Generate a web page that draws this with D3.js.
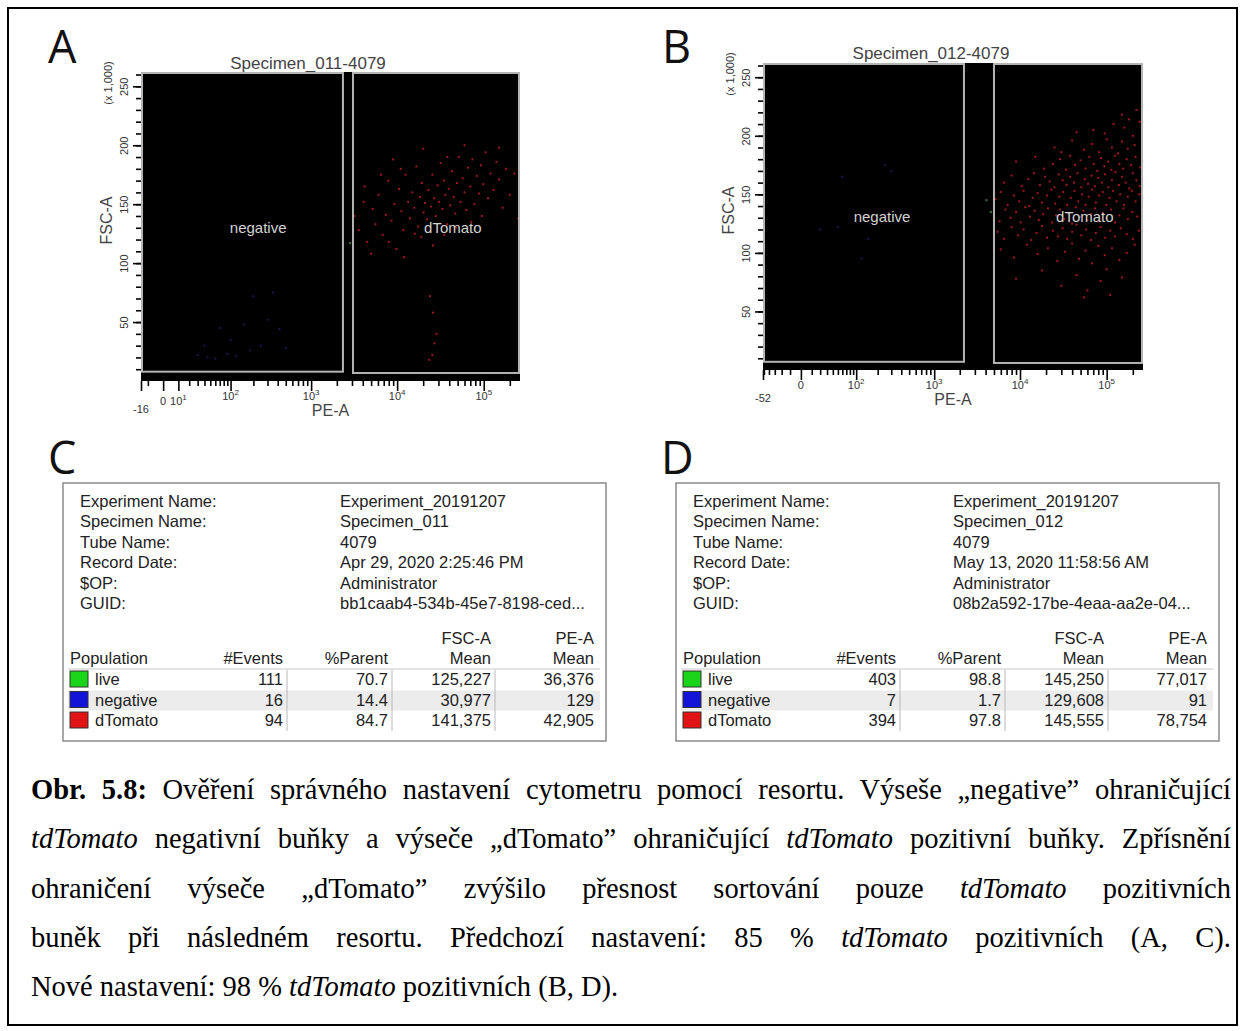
<!DOCTYPE html>
<html>
<head>
<meta charset="utf-8">
<script src="https://cdn.jsdelivr.net/npm/d3@7"></script>
<style>
  body { margin: 0; background: #fff; }
  #fig { position: relative; width: 1243px; height: 1031px; }
  #chart { position: absolute; left: 0; top: 0; }
  #caption { position: absolute; left: 31px; top: 765px; width: 1200px;
             font-family: "Liberation Serif", "Times New Roman", serif; font-size: 28.5px;
             line-height: 49.3px; color: #000; }
  #caption div { text-align: justify; white-space: nowrap; }
  .letter { font-family: "Open Sans", "Liberation Sans", sans-serif; font-size: 45px; fill: #111; }
  .ptitle { font-family: "Liberation Sans", Arial, sans-serif; font-size: 17px; fill: #444; }
  .tick line { stroke: #000; stroke-width: 1.6px; }
  .ticklabel, .tick text { font-family: "Liberation Sans", Arial, sans-serif; font-size: 11px; fill: #333; }
  .axtitle { font-family: "Liberation Sans", Arial, sans-serif; font-size: 16px; fill: #444; }
  .gatelabel { font-family: "Liberation Sans", Arial, sans-serif; font-size: 15px; fill: #d2d2d2; }
  .tbl { font-family: "Liberation Sans", Arial, sans-serif; font-size: 16.5px; fill: #222; }
</style>
</head>
<body>
<div id="fig">
  <svg id="chart" width="1243" height="1031"></svg>
  <div id="caption"></div>
</div>
<script>
// ---------------- data ----------------
var plotLetters = ["A", "B"];
var plotTitles = ["Specimen_011-4079", "Specimen_012-4079"];
var peMinA = -16, peMinB = -52, peMax = 262144;   // PE-A axis ends
var fscMax = 262.144;                              // FSC-A, x 1,000
var fscMajor = [50, 100, 150, 200, 250];
var peDecades = [10, 100, 1000, 10000, 100000];
var gateNames = ["negative", "dTomato"];

// gates: [PE from, PE to, FSC from, FSC to]
var gatesA = [[-16, 2420, 7.9, 262.144], [3000, 262144, 6.8, 262.144]];
var gatesB = [[-52, 2300, 7, 262.144], [4870, 262144, 6, 262.144]];
// where the gate names sit: [PE, FSC]
var gateLabelsA = [[230, 130], [44000, 130]];
var gateLabelsB = [[228, 131], [56000, 131]];

// events: [PE-A, FSC-A (x 1,000)]
var redA = [[3200,140],[3600,128],[4100,152],[4500,118],[5200,146],[5600,133],[6100,158],[6800,124],
  [7400,141],[7900,170],[8600,136],[9300,150],[9800,112],[10500,163],[11200,144],[11800,128],
  [12500,175],[13400,152],[14100,138],[15000,160],[15800,147],[16700,182],[17500,131],[18400,156],
  [19300,168],[20200,143],[21000,151],[22100,137],[23000,162],[24500,148],[25600,175],[26800,155],
  [27900,140],[29300,166],[30500,152],[31800,185],[33400,146],[34700,170],[36000,158],[37800,133],
  [39500,163],[41000,149],[43000,178],[45000,156],[47000,142],[49000,168],[51500,190],[54000,152],
  [57000,172],[60000,160],[63000,145],[66000,181],[70000,165],[74000,188],[78000,150],[83000,174],
  [88000,159],[93000,183],[99000,167],[105000,194],[112000,155],[120000,176],[130000,162],[140000,186],
  [150000,171],[165000,147],[180000,180],[200000,158],[225000,176],[250000,138],
  [5000,108],[8000,118],[12000,105],[19000,122],[26000,115],[35000,124],[48000,130],
  [24000,72],[26000,58],[28500,40],[27000,32],[25500,22],[23500,18],
  [20000,197],[60000,200],[150000,198],[9000,188],
  [4200,165],[6500,175],[11000,180],[16000,125],[38000,190],[72000,135],[95000,140]];
var blueA = [[30,22],[45,20],[60,19],[90,23],[120,21],[180,26],[250,30],[70,45],
  [150,48],[300,52],[420,44],[200,72],[350,75],[100,35],[500,28],[40,30]];
var liveA = [[2850,117]];

var redB = [[150000,218],[220000,222],[180000,214],
  [70000,205],[120000,210],[95000,202],[160000,207],[240000,212],[200000,200],[45000,203],
  [25000,190],[40000,196],[55000,188],[68000,193],[82000,186],[100000,197],[115000,190],[135000,185],
  [150000,195],[175000,189],[210000,192],[255000,198],[30000,186],
  [9000,178],[15000,182],[19000,172],[24000,176],[29000,180],[34000,171],[38000,183],[43000,175],
  [50000,179],[57000,172],[63000,182],[71000,176],[78000,170],[86000,181],[94000,174],[104000,178],
  [113000,171],[125000,183],[140000,176],[155000,172],[170000,180],[190000,175],[215000,182],[245000,173],
  [260000,178],
  [6500,160],[8000,166],[10500,157],[12500,163],[14500,168],[17000,158],[19500,165],[22000,161],
  [25000,156],[28000,167],[31000,162],[34500,158],[38000,165],[42000,160],[46000,168],[51000,156],
  [56000,163],[61000,159],[67000,166],[73000,157],[80000,164],[88000,160],[96000,167],[105000,156],
  [115000,162],[126000,169],[138000,158],[150000,165],[165000,160],[182000,155],[200000,168],[220000,162],
  [240000,157],[258000,166],
  [5200,146],[6000,152],[7200,141],[8500,149],[9800,144],[11000,153],[12800,140],[14000,147],
  [16000,151],[18000,143],[20500,149],[23000,154],[25500,142],[28500,148],[31500,152],[35000,141],
  [38500,147],[42500,153],[47000,144],[52000,150],[57000,141],[62000,148],[68000,154],[75000,143],
  [82000,149],[90000,152],[99000,141],[108000,147],[118000,153],[130000,144],[143000,150],[158000,141],
  [175000,148],[195000,153],[215000,144],[238000,150],[260000,146],
  [5000,133],[5800,127],[6800,137],[7800,130],[9000,135],[10200,126],[11500,139],[13000,131],
  [14800,136],[16500,128],[18500,133],[21000,138],[23500,126],[26000,132],[29000,137],[32500,129],
  [36000,134],[40000,125],[44000,139],[49000,131],[54000,136],[60000,128],[66000,133],[73000,138],
  [81000,127],[90000,134],[100000,130],[112000,137],[125000,126],[140000,132],[156000,138],[175000,129],
  [198000,135],[225000,131],[255000,127],
  [5500,118],[6500,112],[8000,122],[9500,115],[11000,120],[13500,111],[15500,117],[18000,123],
  [20500,113],[24000,119],[27500,114],[31000,121],[35000,112],[40000,118],[45000,124],[51000,115],
  [58000,120],[66000,111],[75000,117],[85000,122],[96000,113],[110000,119],[125000,114],[145000,121],
  [170000,116],[200000,112],[235000,119],
  [6000,103],[8500,96],[12000,107],[16000,99],[21000,104],[27000,93],[33000,101],[40000,108],
  [48000,95],[57000,102],[68000,91],[80000,106],[95000,98],[115000,104],[140000,94],[170000,100],
  [210000,107],
  [9000,78],[18000,85],[30000,72],[45000,81],[60000,68],[85000,76],[110000,64],[150000,79],
  [55000,62],[100000,86],
  [262144,150],[262144,160],[262144,170],[262144,180],[262144,190],[262144,200],[262144,145],
  [262144,175],[262144,165],[262144,185]];
var blueB = [[50,122],[20,120],[150,112],[300,170],[60,165],[120,95],[250,175]];
var liveB = [[4100,145],[4600,135]];

// statistics tables
var infoKeys = ["Experiment Name:", "Specimen Name:", "Tube Name:", "Record Date:", "$OP:", "GUID:"];
var infoC = ["Experiment_20191207", "Specimen_011", "4079", "Apr 29, 2020 2:25:46 PM",
             "Administrator", "bb1caab4-534b-45e7-8198-ced..."];
var infoD = ["Experiment_20191207", "Specimen_012", "4079", "May 13, 2020 11:58:56 AM",
             "Administrator", "08b2a592-17be-4eaa-aa2e-04..."];
var popNames = ["live", "negative", "dTomato"];
var eventsC = [111, 16, 94],  parentC = [70.7, 14.4, 84.7];
var fscMeanC = [125227, 30977, 141375], peMeanC = [36376, 129, 42905];
var eventsD = [403, 7, 394],  parentD = [98.8, 1.7, 97.8];
var fscMeanD = [145250, 129608, 145555], peMeanD = [77017, 91, 78754];

var captionLines = [
  "<b>Obr. 5.8:</b> Ověření správného nastavení cytometru pomocí resortu. Výseše „negative” ohraničující",
  "<i>tdTomato</i> negativní buňky a výseče „dTomato” ohraničující <i>tdTomato</i> pozitivní buňky. Zpřísnění",
  "ohraničení výseče „dTomato” zvýšilo přesnost sortování pouze <i>tdTomato</i> pozitivních",
  "buněk při následném resortu. Předchozí nastavení: 85 % <i>tdTomato</i> pozitivních (A, C).",
  "Nové nastavení: 98 % <i>tdTomato</i> pozitivních (B, D)."
];

// ---------------- drawing ----------------
var svg = d3.select("#chart");
var popColors = ["#19d419", "#1414d8", "#e01414"];

// outer frame of the figure
svg.append("rect")
    .attr("x", 8).attr("y", 8).attr("width", 1229).attr("height", 1017)
    .attr("fill", "none").attr("stroke", "#000").attr("stroke-width", 2);

var plots = [
  {letter: plotLetters[0], title: plotTitles[0], peMin: peMinA, constant: 20,
   left: 141, right: 520, top: 72, bottom: 381, titleX: 308, titleY: 69, letterX: 48,
   gates: gatesA, gateLabels: gateLabelsA, red: redA, blue: blueA, live: liveA},
  {letter: plotLetters[1], title: plotTitles[1], peMin: peMinB, constant: 30,
   left: 763, right: 1143, top: 63, bottom: 370, titleX: 931, titleY: 59, letterX: 662,
   gates: gatesB, gateLabels: gateLabelsB, red: redB, blue: blueB, live: liveB}
];

plots.forEach(drawPlot);

function drawPlot(p, pi) {
    // PE-A is shown on a logicle-like axis, symlog is the closest d3 scale
    var x = d3.scaleSymlog().constant(p.constant).domain([p.peMin, peMax]).range([p.left, p.right]),
        y = d3.scaleLinear().domain([0, fscMax]).range([p.bottom, p.top]);
    var g = svg.append("g");

    g.append("text").attr("class", "letter").attr("x", p.letterX).attr("y", 63).text(p.letter);
    g.append("text").attr("class", "ptitle").attr("text-anchor", "middle")
        .attr("x", p.titleX).attr("y", p.titleY).text(p.title);

    // black plot area
    g.append("rect")
        .attr("x", p.left).attr("y", p.top)
        .attr("width", p.right - p.left).attr("height", p.bottom - p.top)
        .attr("fill", "#000");

    var clipId = "clip" + pi;
    g.append("clipPath").attr("id", clipId).append("rect")
        .attr("x", p.left).attr("y", p.top)
        .attr("width", p.right - p.left).attr("height", p.bottom - p.top);
    var dots = g.append("g").attr("clip-path", "url(#" + clipId + ")");

    function addDots(data, color) {
        dots.append("g").selectAll("rect").data(data).enter().append("rect")
            .attr("x", function(d) { return x(d[0]) - 1; })
            .attr("y", function(d) { return y(d[1]) - 1; })
            .attr("width", 2).attr("height", 2)
            .attr("fill", color);
    }
    addDots(p.blue, "#181852");
    addDots(p.live, "#3a7a3a");
    addDots(p.red, "#a01818");

    // gates
    g.selectAll(".gate").data(p.gates).enter().append("rect")
        .attr("class", "gate")
        .attr("x", function(d) { return x(d[0]) + 1; })
        .attr("y", function(d) { return y(d[3]) + 1; })
        .attr("width", function(d) { return x(d[1]) - x(d[0]) - 2; })
        .attr("height", function(d) { return y(d[2]) - y(d[3]) - 1; })
        .attr("fill", "none").attr("stroke", "#b4b4b4").attr("stroke-width", 2);

    g.selectAll(".gatelabel").data(p.gateLabels).enter().append("text")
        .attr("class", "gatelabel").attr("text-anchor", "middle")
        .attr("x", function(d) { return x(d[0]); })
        .attr("y", function(d) { return y(d[1]) + 5; })
        .text(function(d, i) { return gateNames[i]; });

    // ---- y axis (FSC-A) ----
    var yAxisG = g.append("g").attr("transform", "translate(" + p.left + ",0)");
    yAxisG.append("g")
        .call(d3.axisLeft(y).tickValues(d3.range(10, 261, 10)).tickSize(5).tickFormat(""))
        .call(function(s) { s.select(".domain").remove(); });
    yAxisG.append("g")
        .call(d3.axisLeft(y).tickValues(fscMajor).tickSize(8))
        .call(function(s) { s.select(".domain").remove(); })
        .selectAll("text")
            .attr("x", 0).attr("y", -13).attr("dy", null)
            .attr("text-anchor", "middle")
            .attr("transform", "rotate(-90)");
    g.append("text").attr("class", "ticklabel").attr("text-anchor", "middle")
        .attr("font-size", "10px")
        .attr("transform", "translate(" + (p.left - 29) + "," + (p.top + 11) + ") rotate(-90)")
        .text("(x 1,000)");
    g.append("text").attr("class", "axtitle").attr("text-anchor", "middle")
        .attr("transform", "translate(" + (p.left - 29) + "," + ((p.top + p.bottom) / 2 - 6) + ") rotate(-90)")
        .text("FSC-A");

    // ---- x axis (PE-A) ----
    var minor = [];
    for (var v = -10; v > p.peMin; v -= 10) minor.push(v);
    peDecades.forEach(function(dec) {
        for (var k = 2; k <= 9; k++) if (dec * k < peMax) minor.push(dec * k);
    });
    var major = [p.peMin, 0].concat(pi === 0 ? peDecades : peDecades.slice(1));
    if (pi === 1) minor.push(10);

    var xAxisG = g.append("g").attr("transform", "translate(0," + p.bottom + ")");
    xAxisG.append("g")
        .call(d3.axisBottom(x).tickValues(minor).tickSize(5).tickFormat(""))
        .call(function(s) { s.select(".domain").remove(); });
    xAxisG.append("g")
        .call(d3.axisBottom(x).tickValues(major).tickSize(10).tickFormat(""))
        .call(function(s) { s.select(".domain").remove(); });

    var labels = g.selectAll(".xlab").data(major).enter().append("text")
        .attr("class", "ticklabel").attr("text-anchor", "middle")
        .attr("x", function(d) { return x(d); })
        .attr("y", function(d) {
            var drop = 0;
            if (d === p.peMin) drop = 13;
            else if (pi === 0 && d >= 0 && d < 100) drop = 5;
            return p.bottom + 19 + drop;
        });
    labels.each(function(d) {
        var t = d3.select(this);
        if (d <= 0) { t.text(d); return; }
        t.append("tspan").text("10");
        t.append("tspan").attr("font-size", "8px").attr("dy", -5)
            .text(Math.round(Math.log10(d)));
    });
    g.append("text").attr("class", "axtitle").attr("text-anchor", "middle")
        .attr("x", (p.left + p.right) / 2).attr("y", p.bottom + 35)
        .text("PE-A");
}

// ---------------- statistics tables ----------------
var tables = [
  {letter: "C", dx: 0, info: infoC, events: eventsC, parent: parentC, fsc: fscMeanC, pe: peMeanC},
  {letter: "D", dx: 613, info: infoD, events: eventsD, parent: parentD, fsc: fscMeanD, pe: peMeanD}
];
tables.forEach(drawTable);

function drawTable(t) {
    var g = svg.append("g").attr("transform", "translate(" + t.dx + ",0)");
    g.append("text").attr("class", "letter").attr("x", 48).attr("y", 474).text(t.letter);

    g.append("rect")
        .attr("x", 63).attr("y", 483).attr("width", 543).attr("height", 258)
        .attr("fill", "#fff").attr("stroke", "#8a8a8a").attr("stroke-width", 1.5);

    var infoY = d3.scalePoint().domain(infoKeys).range([507, 609]);
    g.selectAll(".ik").data(infoKeys).enter().append("text")
        .attr("class", "tbl").attr("x", 80)
        .attr("y", function(d) { return infoY(d); })
        .text(function(d) { return d; });
    g.selectAll(".iv").data(t.info).enter().append("text")
        .attr("class", "tbl").attr("x", 340)
        .attr("y", function(d, i) { return infoY(infoKeys[i]); })
        .text(function(d) { return d; });

    var cols = ["events", "parent", "fsc", "pe"];
    var colX = d3.scaleOrdinal().domain(cols).range([283, 388, 491, 594]);
    var rowY = d3.scalePoint().domain(popNames).range([685, 726]);

    // header
    g.append("text").attr("class", "tbl").attr("x", 70).attr("y", 664).text("Population");
    var head1 = {fsc: "FSC-A", pe: "PE-A"},
        head2 = {events: "#Events", parent: "%Parent", fsc: "Mean", pe: "Mean"};
    cols.forEach(function(c) {
        if (head1[c]) g.append("text").attr("class", "tbl").attr("text-anchor", "end")
            .attr("x", colX(c)).attr("y", 644).text(head1[c]);
        g.append("text").attr("class", "tbl").attr("text-anchor", "end")
            .attr("x", colX(c)).attr("y", 664).text(head2[c]);
    });

    // shaded middle row and grid lines
    g.append("rect").attr("x", 68).attr("y", rowY("negative") - 15)
        .attr("width", 532).attr("height", 20).attr("fill", "#ececec");
    g.append("line").attr("x1", 68).attr("x2", 600).attr("y1", 669).attr("y2", 669)
        .attr("stroke", "#c8c8c8").attr("stroke-width", 1.2);
    g.selectAll(".vsep").data(cols.slice(0, 3)).enter().append("line")
        .attr("x1", function(c) { return colX(c) + 4; })
        .attr("x2", function(c) { return colX(c) + 4; })
        .attr("y1", 670).attr("y2", 731)
        .attr("stroke", "#b8b8b8").attr("stroke-width", 1);

    var fmtMean = d3.format(","), fmtPct = d3.format(".1f");
    popNames.forEach(function(name, i) {
        var yy = rowY(name);
        g.append("rect").attr("x", 70).attr("y", yy - 14).attr("width", 18).attr("height", 16)
            .attr("fill", popColors[i]).attr("stroke", "#333").attr("stroke-width", 1);
        g.append("text").attr("class", "tbl").attr("x", 95).attr("y", yy).text(name);
        var vals = {events: t.events[i], parent: fmtPct(t.parent[i]),
                    fsc: fmtMean(t.fsc[i]), pe: fmtMean(t.pe[i])};
        cols.forEach(function(c) {
            g.append("text").attr("class", "tbl").attr("text-anchor", "end")
                .attr("x", colX(c)).attr("y", yy).text(vals[c]);
        });
    });
}

// ---------------- caption ----------------
d3.select("#caption").selectAll("div").data(captionLines).enter().append("div")
    .style("text-align-last", function(d, i) { return i < captionLines.length - 1 ? "justify" : "left"; })
    .html(function(d) { return d; });
</script>
</body>
</html>
